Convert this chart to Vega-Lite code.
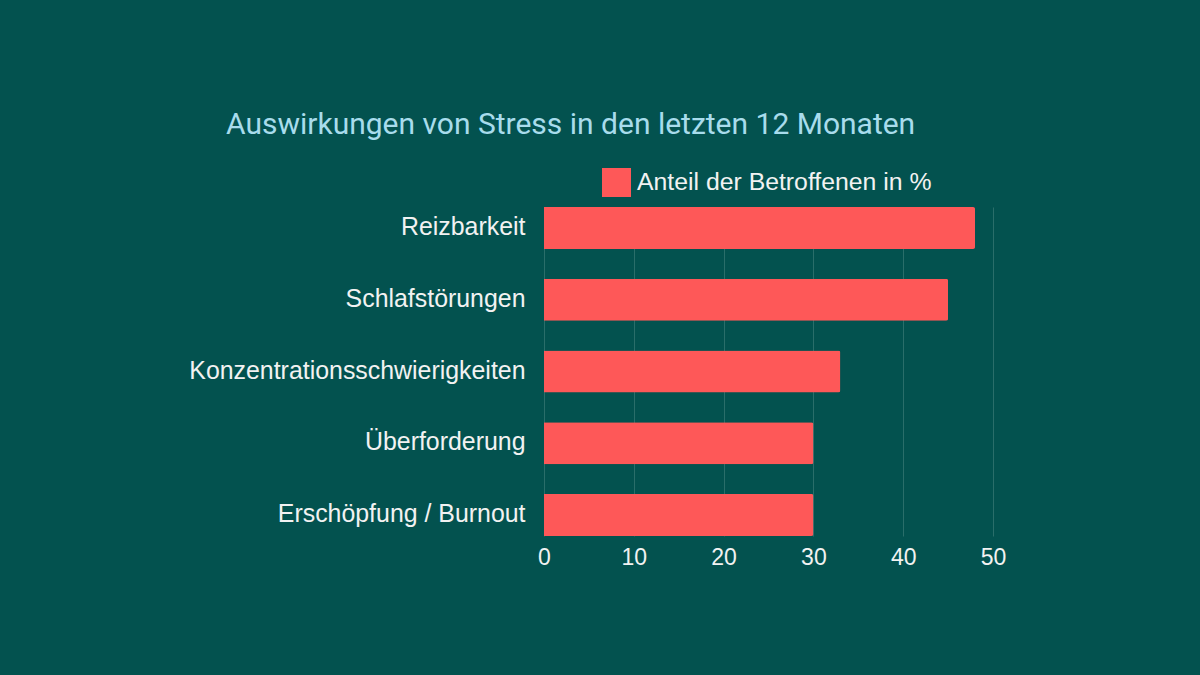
{
  "$schema": "https://vega.github.io/schema/vega-lite/v6.json",
  "width": 449,
  "height": 329,
  "autosize": {"type": "none"},
  "padding": {"left": 544, "top": 207, "right": 207, "bottom": 139},
  "background": "#03524f",
  "title": {
    "text": "Auswirkungen von Stress in den letzten 12 Monaten",
    "anchor": "start",
    "frame": "group",
    "dx": -318,
    "font": "Roboto",
    "fontSize": 30,
    "fontWeight": "normal",
    "color": "#a8dcec",
    "baseline": "alphabetic",
    "offset": 4
  },
  "data": {
    "values": [
      {"kategorie": "Reizbarkeit", "anteil": 48, "serie": "Anteil der Betroffenen in %"},
      {"kategorie": "Schlafstörungen", "anteil": 45, "serie": "Anteil der Betroffenen in %"},
      {"kategorie": "Konzentrationsschwierigkeiten", "anteil": 33, "serie": "Anteil der Betroffenen in %"},
      {"kategorie": "Überforderung", "anteil": 30, "serie": "Anteil der Betroffenen in %"},
      {"kategorie": "Erschöpfung / Burnout", "anteil": 30, "serie": "Anteil der Betroffenen in %"}
    ]
  },
  "mark": {"type": "bar", "cornerRadiusEnd": 2},
  "encoding": {
    "y": {
      "field": "kategorie",
      "type": "nominal",
      "sort": null,
      "scale": {"paddingInner": 0.413, "paddingOuter": 0},
      "axis": {
        "title": null,
        "domain": false,
        "ticks": false,
        "labelFont": "Liberation Sans",
        "labelFontSize": 24.9,
        "labelColor": "#f2f2f2",
        "labelPadding": 19,
        "labelLimit": 500
      }
    },
    "x": {
      "field": "anteil",
      "type": "quantitative",
      "scale": {"domain": [0, 50], "nice": false},
      "axis": {
        "title": null,
        "values": [0, 10, 20, 30, 40, 50],
        "domain": false,
        "ticks": false,
        "grid": true,
        "gridColor": "#2a6e6a",
        "gridWidth": 1,
        "labelFont": "Liberation Sans",
        "labelFontSize": 23,
        "labelColor": "#f2f2f2",
        "labelPadding": 10,
        "labelFlush": false
      }
    },
    "color": {
      "field": "serie",
      "type": "nominal",
      "scale": {"range": ["#fe5858"]},
      "legend": {
        "title": null,
        "orient": "none",
        "legendX": 58,
        "legendY": -39,
        "symbolType": "square",
        "symbolSize": 841,
        "symbolStrokeWidth": 0,
        "symbolOpacity": 1,
        "labelFont": "Liberation Sans",
        "labelFontSize": 24.8,
        "labelColor": "#f2f2f2",
        "labelOffset": 6,
        "labelLimit": 500,
        "padding": 0
      }
    }
  },
  "config": {"view": {"stroke": null}}
}
